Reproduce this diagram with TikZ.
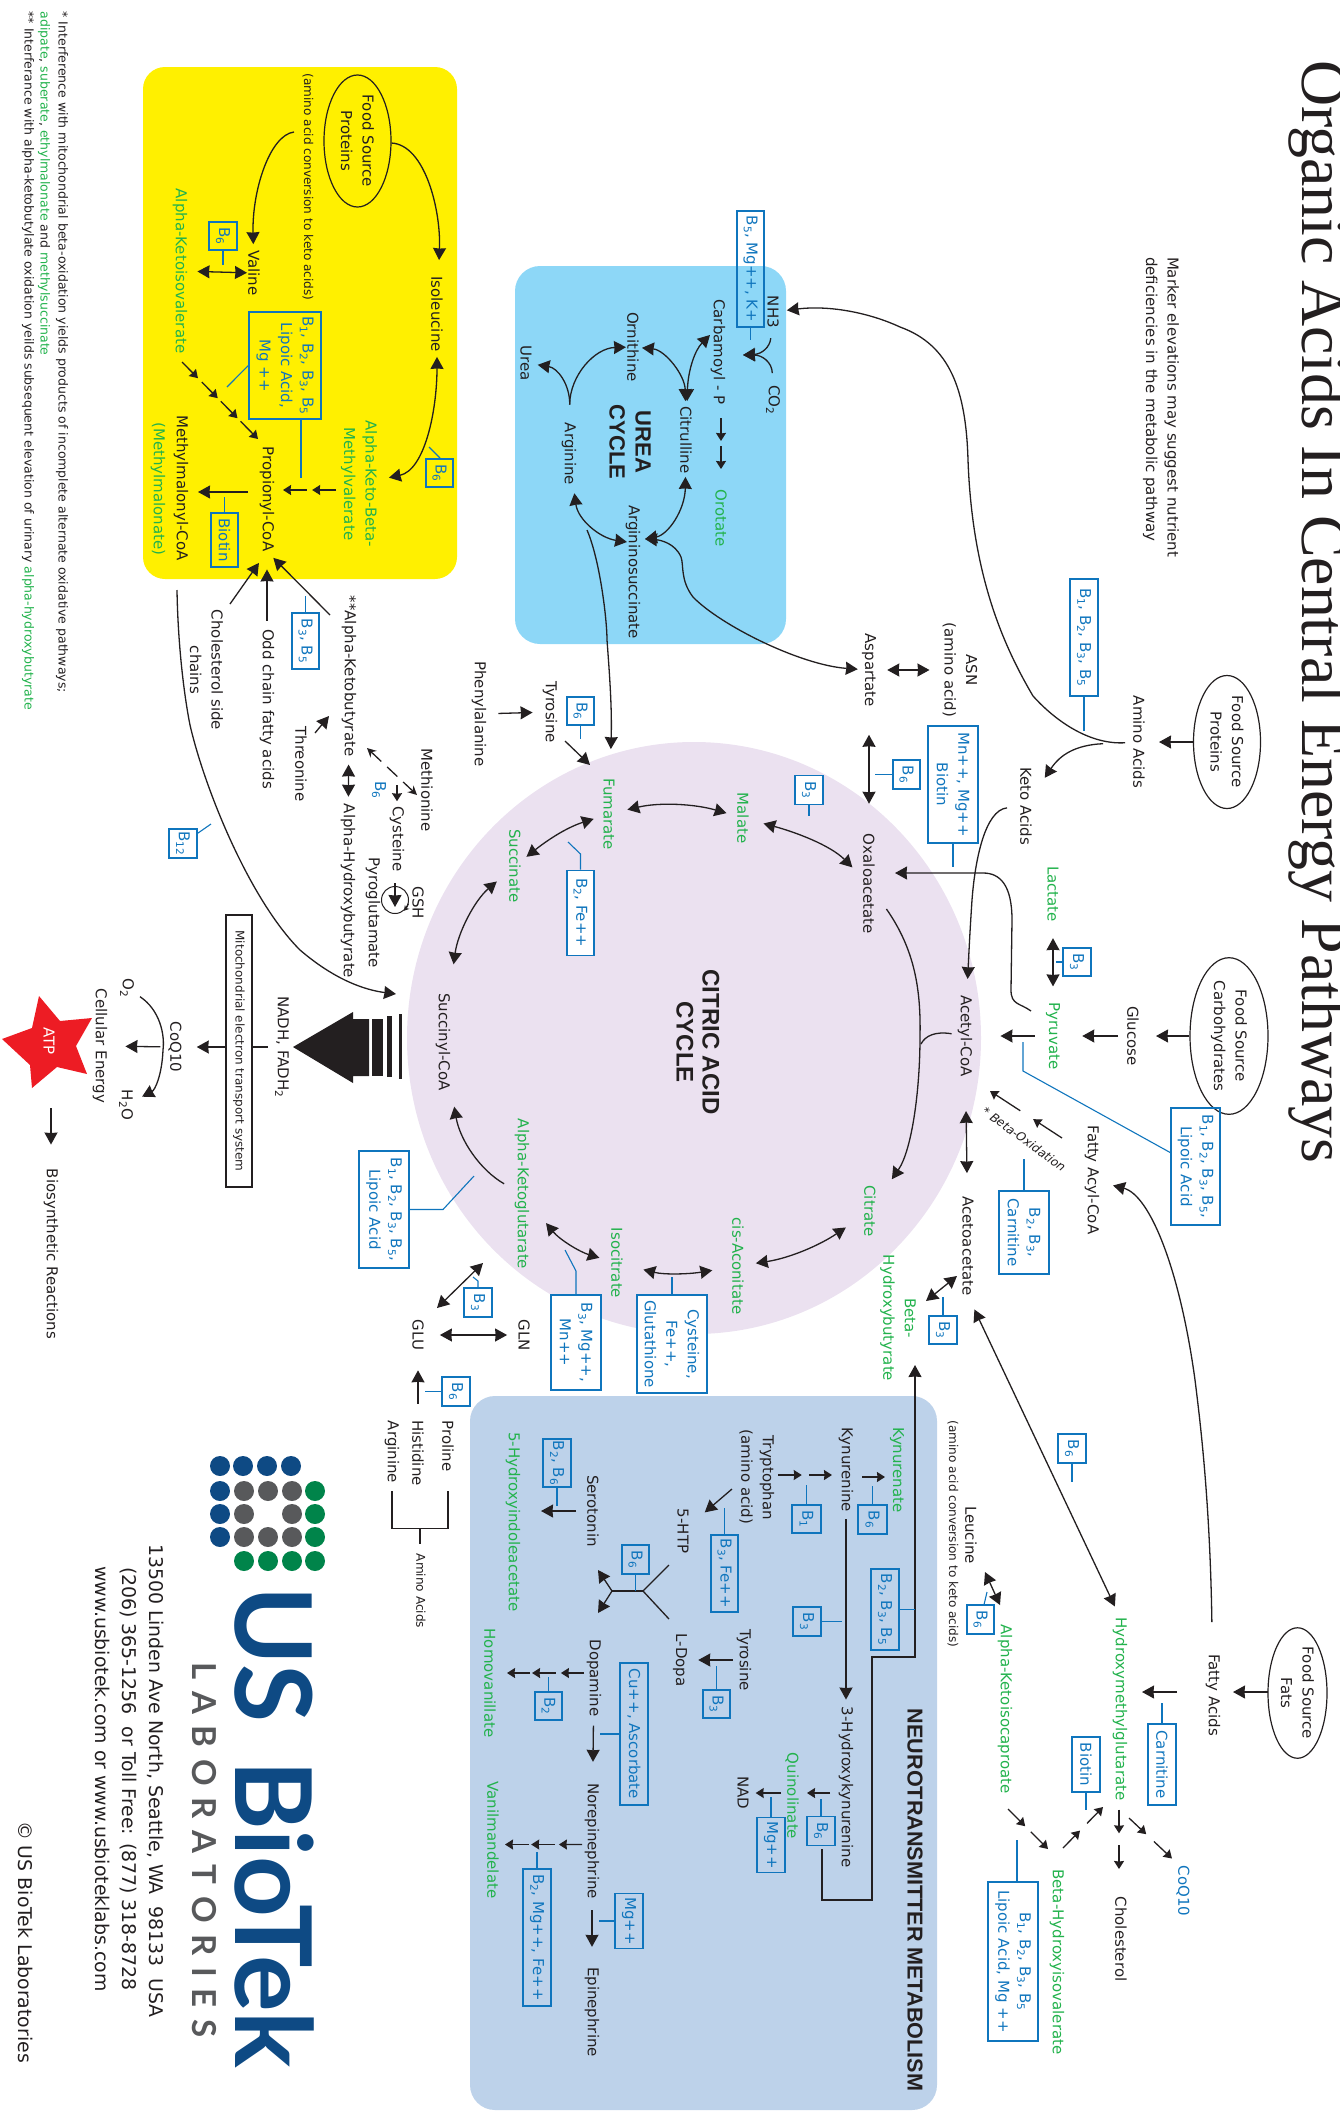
\documentclass[tikz,border=0pt]{standalone}
\usepackage{fontspec}
\setmainfont{DejaVu Sans}
\newfontfamily\titlefont{Liberation Serif}
\newfontfamily\headfont{Liberation Sans}
\newfontfamily\logofont{Lato}
\newfontfamily\labsfont[WordSpace=1.45]{Lato}
\usetikzlibrary{shapes,arrows.meta,calc}
\definecolor{ink}{HTML}{231F20}
\definecolor{mkgreen}{HTML}{22B24C}
\definecolor{cofblue}{HTML}{0F75BD}
\definecolor{lilac}{HTML}{EBE1F0}
\definecolor{ureablue}{HTML}{8DD7F7}
\definecolor{neuroblue}{HTML}{BDD2EA}
\definecolor{bcaayellow}{HTML}{FFF000}
\definecolor{logoblue}{HTML}{0E4A84}
\definecolor{logogrey}{HTML}{58595B}
\definecolor{logogreen}{HTML}{00844A}
\definecolor{atpred}{HTML}{ED1C24}
\newcommand{\Bv}[1]{B\textsubscript{#1}}
\tikzset{
    lab/.style={rotate=-90,inner sep=0pt,align=center,text=ink,font=\fontsize{15}{21.5}\selectfont},
    mk/.style={lab,text=mkgreen},
    tiny/.style={lab,font=\fontsize{12.1}{14}\selectfont},
    note/.style={lab,anchor=west,font=\fontsize{12.5}{14}\selectfont},
    head/.style={lab,font=\fontsize{#1}{26}\selectfont\headfont\bfseries},
    addr/.style={lab,font=\fontsize{18.9}{22}\selectfont},
    food/.style 2 args={lab,ellipse,draw=ink,line width=1.2pt,minimum width=#1,minimum height=#2},
    cof/.style 2 args={lab,rectangle,draw=cofblue,line width=1.2pt,text=cofblue,minimum width=#1,minimum height=#2},
    cofw/.style 2 args={cof={#1}{#2},fill=white},
    dotb/.style={circle,inner sep=0pt,minimum size=20pt,fill=#1},
    stem/.style={draw=cofblue,line width=1.1pt},
    cut/.style 2 args={shorten <=#1pt,shorten >=#2pt},
    line/.style={draw=ink,line width=1.3pt},
    rxn/.style={line,-{Stealth[inset=0.5pt,length=12pt,width=13pt]}},
    rxnB/.style={line,{Stealth[inset=0.5pt,length=12pt,width=13pt]}-{Stealth[inset=0.5pt,length=12pt,width=13pt]}},
    rxnS/.style={line,-{Stealth[inset=0.5pt,length=8pt,width=10pt]}}
}
\begin{document}
\begin{tikzpicture}[x=1pt,y=-1pt]
    \useasboundingbox (0,0) rectangle (1340,2112);

    % Coloured panels
    \fill[lilac] (694,1038) ellipse [x radius=287,y radius=296];
    \fill[bcaayellow,rounded corners=22pt] (143,67) rectangle (457,579);
    \fill[ureablue,rounded corners=25pt] (515,266) rectangle (786,644);
    \fill[neuroblue,rounded corners=25pt] (470,1396) rectangle (937,2110);

    % Title and side notes
    \node[lab,anchor=base west,font=\fontsize{63.9}{70}\selectfont\titlefont] (Title) at (1302,60) {Organic Acids In Central Energy Pathways};
    \node[lab,align=left] (Marker) at (1161,407) {Marker elevations may suggest nutrient\\deficiencies in the metabolic pathway};
    \node[note] (NoteA) at (62,11.5) {* Interference with mitochondrial beta-oxidation yields products of incomplete alternate oxidative pathways;};
    \node[note] (NoteB) at (44,11.5) {\textcolor{mkgreen}{adipate}, \textcolor{mkgreen}{suberate}, \textcolor{mkgreen}{ethylmalonate} and \textcolor{mkgreen}{methylsuccinate}};
    \node[note] (NoteC) at (28,11.5) {** Interferance with alpha-ketobutylate oxidation yeilds subsequent elevation of urinary \textcolor{mkgreen}{alpha-hydroxybutyrate}};

    % Food sources, top of the page
    \node[food={133pt}{67pt}] (FoodP) at (1227,742) {Food Source\\Proteins};
    \node[lab] (Amino) at (1139,742) {Amino Acids};
    \node[lab] (Keto) at (1026,806) {Keto Acids};
    \node[food={136pt}{78pt}] (FoodC) at (1229,1036) {Food Source\\Carbohydrates};
    \node[lab] (Glucose) at (1133,1036) {Glucose};
    \node[mk] (Pyruvate) at (1053,1036) {Pyruvate};
    \node[mk] (Lactate) at (1053,894) {Lactate};
    \node[lab] (Fatty) at (1092,1180) {Fatty Acyl-CoA};
    \node[lab,rotate=54,font=\fontsize{12}{14}\selectfont\itshape] (BetaOx) at (1024,1139) {* Beta-Oxidation};
    \node[lab] (Aspartate) at (869,670) {Aspartate};
    \node[lab] (Asn) at (960,670) {ASN\\(amino acid)};
    \node[lab] (Phe) at (479,714) {Phenylalanine};
    \node[lab] (TyrC) at (550,712) {Tyrosine};

    % Citric acid cycle
    \node[head=24] (Citric) at (698,1042) {CITRIC ACID\\CYCLE};
    \node[lab] (Oxalo) at (869,884) {Oxaloacetate};
    \node[lab] (Acetyl) at (965,1036) {Acetyl-CoA};
    \node[lab] (Acetoac) at (968,1246) {Acetoacetate};
    \node[mk] (Citrate) at (870,1211) {Citrate};
    \node[mk] (Aconit) at (738,1266) {cis-Aconitate};
    \node[mk] (Isocit) at (617,1263) {Isocitrate};
    \node[mk] (AlphaKG) at (522,1194) {Alpha-Ketoglutarate};
    \node[lab] (SuccCoA) at (443,1042) {Succinyl-CoA};
    \node[mk] (Succinate) at (515,866) {Succinate};
    \node[mk] (Fumarate) at (609,814) {Fumarate};
    \node[mk] (Malate) at (743,818) {Malate};
    \node[mk] (BetaHB) at (898,1318) {Beta-\\Hydroxybutyrate};

    % Urea cycle
    \node[head=22] (UreaT) at (630,442) {UREA\\CYCLE};
    \node[lab] (NHt) at (773,312) {NH3};
    \node[lab] (COt) at (773,400) {CO\textsubscript{2}};
    \node[lab] (Carbamoyl) at (718,352) {Carbamoyl - P};
    \node[mk] (Orotate) at (721,518) {Orotate};
    \node[lab] (Citrulline) at (686,440) {Citrulline};
    \node[lab] (Ornithine) at (633,347) {Ornithine};
    \node[lab] (Urea) at (526,363) {Urea};
    \node[lab] (ArgU) at (569,454) {Arginine};
    \node[lab] (Argsucc) at (633,572) {Argininosuccinate};

    % Branched chain panel
    \node[food={132pt}{67pt}] (FoodY) at (357.5,141) {Food Source\\Proteins};
    \node[tiny] (ConvY) at (308,187) {(amino acid conversion to keto acids)};
    \node[lab] (Isoleucine) at (437,314) {Isoleucine};
    \node[lab] (Valine) at (254,273) {Valine};
    \node[mk] (KIV) at (180,271) {Alpha-Ketoisovalerate};
    \node[mk] (KBM) at (359,484) {Alpha-Keto-Beta-\\Methylvalerate};
    \node[lab] (Propionyl) at (267,499) {Propionyl-CoA};
    \node[lab] (Mmcoa) at (181,488) {Methylmalonyl-CoA};
    \node[mk] (Mma) at (158,489) {(Methylmalonate)};
    \node[lab] (CholSide) at (206.5,670) {Cholesterol side\\chains};
    \node[lab] (OddChain) at (267,709) {Odd chain fatty acids};
    \node[lab] (AlphaKB) at (349,676) {**Alpha-Ketobutyrate};
    \node[lab] (AlphaHB) at (348,891) {Alpha-Hydroxybutyrate};
    \node[lab] (Threonine) at (301,764) {Threonine};
    \node[lab] (Methionine) at (427,790) {Methionine};
    \node[lab] (CysA) at (397,839) {Cysteine};
    \node[lab] (Pyroglu) at (373,913) {Pyroglutamate};
    \node[lab] (Gsh) at (418,903) {GSH};
    \node[lab,text=cofblue] (BsixCys) at (379,790) {\Bv{6}};
    \node[draw=ink,line width=1pt,circle,inner sep=0pt,minimum size=27pt] (GshRing) at (395,900) {};

    % Energy output
    \node[lab] (Nadh) at (282,1047) {NADH, FADH\textsubscript{2}};
    \node[lab,rectangle,draw=ink,line width=1.4pt,minimum width=272pt,minimum height=26pt,font=\fontsize{12}{14}\selectfont] (Etc) at (239,1051) {Mitochondrial electron transport system};
    \node[lab] (CoQ) at (175,1047) {CoQ10};
    \node[lab] (Otwo) at (127,988) {O\textsubscript{2}};
    \node[lab] (Water) at (126,1105) {H\textsubscript{2}O};
    \node[lab] (Cellular) at (100,1046) {Cellular Energy};
    \fill[atpred] (39,996) -- (60,1021) -- (92,1018) -- (76,1046) -- (87,1074) -- (57,1067) -- (32,1088) -- (30,1065) -- (2,1039) -- (32,1028) -- cycle;
    \node[lab,text=white] (Atp) at (49,1041) {ATP};
    \node[lab] (Biosyn) at (51,1254) {Biosynthetic Reactions};
    \fill[ink] (293,1047) -- (353,1012) -- (353,1019) -- (369,1019) -- (369,1076) -- (353,1076) -- (353,1083) -- cycle;
    \fill[ink] (372,1019) rectangle (383,1076);
    \fill[ink] (387,1016) rectangle (392,1077);
    \fill[ink] (399,1014) rectangle (402,1079);

    % Amino acids below the cycle
    \node[lab] (Glu) at (418,1335) {GLU};
    \node[lab] (Gln) at (524,1335) {GLN};
    \node[lab] (Proline) at (448,1446) {Proline};
    \node[lab] (Histidine) at (418,1453) {Histidine};
    \node[lab] (ArgA) at (392,1452) {Arginine};
    \node[tiny] (AminoS) at (421,1591) {Amino Acids};

    % Fat side
    \node[food={125pt}{59pt}] (FoodF) at (1297.5,1693) {Food Source\\Fats};
    \node[lab] (FattyA) at (1213,1695) {Fatty Acids};
    \node[mk] (Hmg) at (1120,1709) {Hydroxymethylglutarate};
    \node[lab] (Cholesterol) at (1121,1939) {Cholesterol};
    \node[lab,text=cofblue] (CoQb) at (1183,1891) {CoQ10};
    \node[mk] (Hiv) at (1057,1962) {Beta-Hydroxyisovalerate};
    \node[mk] (Kic) at (1005,1709) {Alpha-Ketoisocaproate};
    \node[lab] (Leucine) at (971,1535) {Leucine};
    \node[tiny] (ConvL) at (953,1534) {(amino acid conversion to keto acids)};

    % Neurotransmitter panel
    \node[head=21.6] (NeuroT) at (915,1900) {NEUROTRANSMITTER METABOLISM};
    \node[mk] (Kyna) at (897,1470) {Kynurenate};
    \node[lab] (Kynurenine) at (846,1470) {Kynurenine};
    \node[lab] (Hk) at (846,1787) {3-Hydroxykynurenine};
    \node[mk] (Quin) at (792,1796) {Quinolinate};
    \node[lab] (Nad) at (743,1793) {NAD};
    \node[lab] (Trp) at (767,1478) {Tryptophan};
    \node[lab] (TrpA) at (746,1477) {(amino acid)};
    \node[lab] (Htp) at (683,1531) {5-HTP};
    \node[lab] (Ldopa) at (680,1660) {L-Dopa};
    \node[lab] (TyrN) at (744,1660) {Tyrosine};
    \node[lab] (Serotonin) at (593,1511) {Serotonin};
    \node[mk] (Hiaa) at (513,1522) {5-Hydroxyindoleacetate};
    \node[lab] (Dopamine) at (594,1678) {Dopamine};
    \node[mk] (Homova) at (490,1683) {Homovanillate};
    \node[lab] (Norep) at (592,1841) {Norepinephrine};
    \node[mk] (Vanil) at (493,1840) {Vanilmandelate};
    \node[lab] (Epi) at (592,2012) {Epinephrine};

    % Cofactor boxes
    \node[cof={117pt}{28pt}] (cofAmino) at (1084,637.5) {\Bv{1}, \Bv{2}, \Bv{3}, \Bv{5}};
    \node[cof={117pt}{50pt}] (cofMn) at (953,784.5) {Mn++, Mg++\\Biotin};
    \node[cof={29pt}{27pt}] (cofAsp) at (906.5,774.5) {\Bv{6}};
    \node[cof={28pt}{28pt}] (cofLac) at (1077,962) {\Bv{3}};
    \node[cof={117pt}{49pt}] (cofPyr) at (1195.5,1166.5) {\Bv{1}, \Bv{2}, \Bv{3}, \Bv{5},\\Lipoic Acid};
    \node[cof={83pt}{50pt}] (cofCarn) at (1024,1232.5) {\Bv{2}, \Bv{3},\\Carnitine};
    \node[cof={28pt}{28pt}] (cofBhb) at (943,1330) {\Bv{3}};
    \node[cof={29pt}{28pt}] (cofHmg) at (1072,1448.5) {\Bv{6}};
    \node[cof={81pt}{28pt}] (cofFat) at (1162,1764.5) {Carnitine};
    \node[cof={55pt}{28pt}] (cofBio) at (1086,1764.5) {Biotin};
    \node[cof={29pt}{27pt}] (cofLeu) at (980.5,1619.5) {\Bv{6}};
    \node[cof={159pt}{50pt}] (cofHiv) at (1013,1961.5) {\Bv{1}, \Bv{2}, \Bv{3}, \Bv{5}\\Lipoic Acid, Mg ++};
    \node[cof={29pt}{29pt}] (cofKyn) at (872.5,1519.5) {\Bv{6}};
    \node[cof={28pt}{29pt}] (cofTrp) at (806.5,1519) {\Bv{1}};
    \node[cof={29pt}{28pt}] (cofKhk) at (807,1621.5) {\Bv{3}};
    \node[cof={81pt}{28pt}] (cofLoop) at (885,1609.5) {\Bv{2}, \Bv{3}, \Bv{5}};
    \node[cof={77pt}{27pt}] (cofHtp) at (724.5,1573.5) {\Bv{3}, Fe++};
    \node[cof={28pt}{27pt}] (cofDopa) at (716.5,1704) {\Bv{3}};
    \node[cof={29pt}{27pt}] (cofAad) at (635.5,1559.5) {\Bv{6}};
    \node[cof={48pt}{28pt}] (cofSer) at (557,1463) {\Bv{2}, \Bv{6}};
    \node[cof={28pt}{27pt}] (cofHom) at (548.5,1706) {\Bv{2}};
    \node[cof={142pt}{28pt}] (cofCu) at (634,1734) {Cu++, Ascorbate};
    \node[cof={137pt}{28pt}] (cofVma) at (537,1937.5) {\Bv{2}, Mg++, Fe++};
    \node[cof={55pt}{28pt}] (cofEpi) at (629,1921) {Mg++};
    \node[cof={29pt}{28pt}] (cofQui) at (821,1831) {\Bv{6}};
    \node[cof={55pt}{28pt}] (cofNad) at (771,1845) {Mg++};
    \node[cofw={29pt}{28pt}] (cofMal) at (809,790) {\Bv{3}};
    \node[cofw={85pt}{27pt}] (cofFum) at (580.5,912.7) {\Bv{2}, Fe++};
    \node[cofw={95pt}{50pt}] (cofIso) at (576,1342.5) {\Bv{3}, Mg++,\\Mn++};
    \node[cofw={98pt}{70pt}] (cofAco) at (672,1344) {Cysteine,\\Fe++,\\Glutathione};
    \node[cof={117pt}{50pt}] (cofKga) at (384,1209.5) {\Bv{1}, \Bv{2}, \Bv{3}, \Bv{5},\\Lipoic Acid};
    \node[cof={29pt}{28pt}] (cofGlu) at (478,1302.5) {\Bv{3}};
    \node[cof={29pt}{28pt}] (cofGlt) at (456,1391.5) {\Bv{6}};
    \node[cof={28pt}{27pt}] (cofTyr) at (580.5,711) {\Bv{6}};
    \node[cof={116pt}{27pt}] (cofCps) at (750.5,269) {\Bv{5}, Mg++, K+};
    \node[cof={28pt}{27pt}] (cofIle) at (439.5,473) {\Bv{6}};
    \node[cof={28pt}{28pt}] (cofVal) at (223,236) {\Bv{6}};
    \node[cof={107pt}{72pt}] (cofPro) at (285,365.5) {\Bv{1}, \Bv{2}, \Bv{3}, \Bv{5}\\Lipoic Acid,\\Mg ++};
    \node[cof={54pt}{27pt}] (cofMma) at (224.5,540) {Biotin};
    \node[cof={56pt}{27pt}] (cofAkb) at (305.5,641) {\Bv{3}, \Bv{5}};
    \node[cof={29pt}{28pt}] (cofBtw) at (183,843.5) {\Bv{12}};

    % Free ends of the connectors
    \coordinate (nhIn) at (743,355);
    \coordinate (carbTip) at (710,335);
    \coordinate (asIn) at (645,539);
    \coordinate (asOut) at (627,542);
    \coordinate (fumS) at (587,530);
    \coordinate (pyrOut) at (1031,1011);
    \coordinate (oxaIn) at (895,873);
    \coordinate (acJoin) at (921,1044);
    \coordinate (aaTip) at (957,1276);
    \coordinate (bhbTip) at (926,1301);
    \coordinate (bhbIn) at (915,1365);
    \coordinate (qnOut) at (822,1849);
    \coordinate (hmgIn) at (1142,1692);
    \coordinate (fatIn) at (1233,1692);
    \coordinate (valS) at (294,132);
    \coordinate (cholS) at (230,604);
    \coordinate (akbS) at (330,615);
    \coordinate (pmTip) at (198,492);
    \coordinate (mmS) at (177,590);
    \coordinate (mmT) at (396,994);
    \coordinate (thrS) at (315,733);
    \coordinate (thrT) at (329,716);
    \coordinate (metA) at (367,748);
    \coordinate (metB) at (417,795);
    \coordinate (cysS) at (397,785);
    \coordinate (gshS) at (395,883);
    \coordinate (gshT) at (395,907);
    \coordinate (tyrS) at (565,741);
    \coordinate (tyrT) at (590,765);
    \coordinate (gluA) at (437,1308);
    \coordinate (gluB) at (483,1263);
    \coordinate (leuA) at (985,1572);
    \coordinate (leuB) at (1000,1605);
    \coordinate (trpOut) at (732,1489);
    \coordinate (hiaaIn) at (541,1511);
    \coordinate (atpOut) at (51,1108);
    \coordinate (kkT) at (885,1477);
    \coordinate (hqT) at (807,1793);
    \coordinate (brTopL) at (392,1491);
    \coordinate (brLowL) at (392,1528.5);
    \coordinate (brLowR) at (448,1528.5);
    \coordinate (brTopR) at (448,1491);
    \coordinate (brMid) at (420,1528.5);
    \coordinate (brEnd) at (420,1544);
    \coordinate (fkA) at (669,1565);
    \coordinate (fkB) at (669,1619);
    \coordinate (fkM) at (643,1591);
    \coordinate (fkN) at (612,1591);
    \coordinate (fkS) at (598,1570);
    \coordinate (fkT) at (598,1613);

    % Broken arrows, cut out of one line
    \coordinate (hivS) at (1008,1809); \coordinate (hivT) at (1048,1849);
    \coordinate (hgS) at (1063,1848); \coordinate (hgT) at (1103,1807);
    \coordinate (cqS) at (1129,1818); \coordinate (cqT) at (1172,1858.5);
    \coordinate (boS) at (1062,1138); \coordinate (boT) at (990,1091);
    \coordinate (oroS) at (721,418); \coordinate (oroT) at (721,469);
    \coordinate (chS) at (1119,1809.5); \coordinate (chT) at (1119,1869);
    \coordinate (kbS) at (336,490); \coordinate (kbT) at (283,490);
    \coordinate (tkS) at (778,1475); \coordinate (tkT) at (832,1475);
    \coordinate (kivS) at (182,362); \coordinate (kivT) at (258,439);
    \coordinate (dopS) at (584,1673); \coordinate (dopT) at (507,1673);
    \coordinate (nepS) at (582,1844.5); \coordinate (nepT) at (505,1844.5);
    \foreach \fr/\to/\sa/\sb in {hivS/hivT/0/.43,hivS/hivT/.57/1,hgS/hgT/0/.425,hgS/hgT/.6/1,cqS/cqT/0/.4,cqS/cqT/.58/1,
        boS/boT/0/.40,boS/boT/.58/1,oroS/oroT/0/.45,oroS/oroT/.55/1,chS/chT/0/.4,chS/chT/.6/1,kbS/kbT/0/.45,kbS/kbT/.55/1,
        tkS/tkT/0/.44,tkS/tkT/.57/1,kivS/kivT/0/.21,kivS/kivT/.26/.47,kivS/kivT/.51/.73,kivS/kivT/.77/1,
        dopS/dopT/0/.3,dopS/dopT/.365/.675,dopS/dopT/.70/1,nepS/nepT/0/.30,nepS/nepT/.35/.66,nepS/nepT/.69/1}
        \draw[rxnS] ($(\fr)!\sa!(\to)$) -- ($(\fr)!\sb!(\to)$);

    % Top of the page
    \draw[rxn,cut={0}{14}] (FoodP) -- (Amino);
    \draw[rxn,cut={8}{8}] (Amino) .. controls (1085,745) and (1050,715) .. (1033,696) .. controls (1000,640) and (972,570) .. (968,460) .. controls (966,390) and (950,345) .. (900,327) .. controls (870,313) and (830,305) .. (NHt);
    \draw[rxn,cut={30}{23}] (Amino) .. controls (1075,745) and (1060,755) .. (Keto);
    \draw[rxn,cut={0}{17}] (FoodC) -- (Glucose);
    \draw[rxn,cut={9}{22}] (Glucose) -- (Pyruvate);
    \draw[rxn,cut={11}{28}] (Pyruvate) -- (Acetyl);
    \draw[rxnB,cut={16}{16}] (Lactate) -- (Pyruvate);
    \draw[rxn,cut={13}{16}] (Keto) .. controls (985,810) and (975,860) .. (972,900) .. controls (970,930) and (969,950) .. (Acetyl);
    \draw[rxn] (pyrOut) .. controls (1020,1003) and (1011,1005) .. (1011,990) -- (1012,920) .. controls (1012,885) and (1000,873) .. (983,873) -- (oxaIn);
    \draw[rxnB,cut={11}{13}] (Aspartate) -- (Asn);
    \draw[rxnB,cut={28}{30}] (Aspartate) -- (Oxalo);
    \draw[rxnB,cut={4}{0}] (Aspartate) .. controls (800,665) and (720,625) .. (693,597) .. controls (680,580) and (684,565) .. (681,557) .. controls (675,543) and (660,540) .. (asIn);
    \draw[rxn,cut={12}{10}] (Phe) -- (TyrC);
    \draw[rxn] (tyrS) -- (tyrT);

    % Cycle arrows
    \draw[rxnB,cut={13}{11}] (Fumarate) .. controls (660,802) and (695,804) .. (Malate);
    \draw[rxnB,cut={10}{7}] (Fumarate) .. controls (565,828) and (545,842) .. (Succinate);
    \draw[rxnB,cut={16}{29}] (Succinate) .. controls (475,900) and (458,932) .. (SuccCoA);
    \draw[rxn,cut={12}{22}] (AlphaKG) .. controls (480,1170) and (460,1140) .. (SuccCoA);
    \draw[rxnB,cut={26}{12}] (AlphaKG) .. controls (560,1240) and (580,1252) .. (Isocit);
    \draw[rxnB,cut={21}{20}] (Isocit) .. controls (665,1275) and (690,1274) .. (Aconit);
    \draw[rxnB,cut={12}{22}] (Aconit) .. controls (790,1258) and (820,1245) .. (Citrate);
    \draw[rxnB,cut={15}{15}] (Malate) .. controls (795,832) and (830,845) .. (Oxalo);
    \draw[rxn,cut={20}{28}] (Oxalo) .. controls (915,950) and (921,990) .. (920,1037) .. controls (920,1090) and (912,1150) .. (Citrate);
    \draw[line,cut={6}{0}] (Acetyl) .. controls (935,1031) and (925,1036) .. (acJoin);
    \draw[rxnB,cut={34}{23}] (Acetyl) -- (Acetoac);
    \draw[rxnB] (aaTip) -- (bhbTip);
    \draw[rxnB,cut={15}{12}] (Acetoac.east) -- (Hmg.west);
    \draw[rxn,cut={32}{14}] (FattyA) .. controls (1210,1500) and (1200,1420) .. (1195,1380) .. controls (1180,1270) and (1150,1195) .. (Fatty);

    % Urea cycle arrows
    \draw[rxn,cut={10}{0}] (NHt) .. controls (770,347) and (762,354) .. (nhIn);
    \draw[rxn,cut={12}{0}] (COt) .. controls (772,362) and (762,355) .. (nhIn);
    \draw[rxnB,cut={0}{5}] (carbTip) .. controls (695,350) and (688,370) .. (Citrulline);
    \draw[rxnB,cut={3}{5}] (Ornithine) .. controls (665,350) and (685,375) .. (Citrulline);
    \draw[rxn,cut={18}{1}] (ArgU) .. controls (570,375) and (595,348) .. (Ornithine);
    \draw[rxn,cut={18}{6}] (ArgU) .. controls (570,385) and (558,368) .. (Urea);
    \draw[rxnB,cut={3}{0}] (Citrulline) .. controls (685,510) and (668,535) .. (asIn);
    \draw[rxnB,cut={8}{0}] (ArgU) .. controls (578,520) and (600,538) .. (asOut);
    \draw[rxn,cut={0}{29}] (fumS) .. controls (600,560) and (607,620) .. (607,640) .. controls (610,680) and (612,710) .. (Fumarate);

    % Branched chain arrows
    \draw[rxn,cut={0}{16}] (FoodY) .. controls (425,145) and (441,210) .. (Isoleucine);
    \draw[rxn,cut={0}{6}] (valS) .. controls (270,135) and (252,190) .. (Valine);
    \draw[rxnB,cut={1}{10}] (Valine) -- (KIV);
    \draw[rxnB,cut={5}{12}] (Isoleucine) .. controls (437,410) and (425,470) .. (KBM);
    \draw[rxn,cut={19}{0}] (Propionyl |- pmTip) -- (pmTip);
    \draw[rxn,cut={0}{14}] (cholS) -- (Propionyl.east);
    \draw[rxn,cut={8}{18}] (OddChain) -- (Propionyl);
    \draw[rxn,cut={0}{9}] (akbS) -- (Propionyl.east);
    \draw[rxnB,cut={8}{7}] (AlphaKB) -- (AlphaHB);
    \draw[rxn] (thrS) -- (thrT);
    \draw[line,dash pattern=on 14pt off 8pt,{Stealth[length=9pt,width=9pt]}-{Stealth[length=9pt,width=9pt]}] (metA) -- (metB);
    \draw[rxnS,cut={0}{5}] (cysS) -- (CysA);
    \draw[rxn] (gshS) -- (gshT);
    \draw[line,line width=1pt,-{Stealth[length=5pt,width=6pt]}] (GshRing.-15) .. controls (GshRing.-30) .. (GshRing.-50);
    \draw[rxn] (mmS) .. controls (178,650) and (185,700) .. (190,725) .. controls (205,790) and (250,900) .. (300,950) .. controls (335,980) and (365,990) .. (mmT);
    \draw[line,cut={7}{13}] (Nadh) -- (Etc |- Nadh);
    \draw[rxn,cut={13}{15}] (Etc |- CoQ) -- (CoQ);
    \draw[rxn,cut={8}{18}] (CoQ) -- (Cellular);
    \draw[rxn,cut={7}{10}] (Otwo) .. controls (160,1010) and (165,1035) .. (163,1050) .. controls (162,1075) and (155,1090) .. (Water);
    \draw[rxn,cut={0}{24}] (atpOut) -- (Biosyn);

    % Below the cycle
    \draw[rxnB,cut={16}{11}] (Glu) -- (Gln);
    \draw[rxnB] (gluA) -- (gluB);
    \draw[rxn,cut={16}{20}] (Histidine) -- (Glu);
    \draw[line,line width=1.1pt] (brTopL) -- (brLowL) -- (brLowR) -- (brTopR);
    \draw[line,line width=1.1pt] (brMid) -- (brEnd);

    % Fat side
    \draw[rxn,cut={29.5}{0}] (FoodF |- fatIn) -- (fatIn);
    \draw[rxn,cut={36}{0}] (FattyA |- hmgIn) -- (hmgIn);
    \draw[rxnB] (leuA) -- (leuB);

    % Neurotransmitter arrows
    \draw[rxnS,cut={16}{0}] (Kynurenine |- kkT) -- (kkT);
    \draw[rxn,cut={7}{7}] (Kynurenine) -- (Hk);
    \draw[rxn,cut={0}{21}] (trpOut) -- (Htp);
    \draw[rxn,cut={4}{11}] (TyrN) -- (Ldopa);
    \draw[rxn,cut={11}{0}] (Serotonin) -- (hiaaIn);
    \draw[rxn,cut={9}{21}] (Dopamine) -- (Norep);
    \draw[rxn,cut={11}{20}] (Norep) -- (Epi);
    \draw[rxnS,cut={16}{0}] (Hk |- hqT) -- (hqT);
    \draw[rxnS,cut={11}{7}] (Quin |- Nad) -- (Nad);
    \draw[line] (fkA) -- (fkM) -- (fkB);
    \draw[line] (fkM) -- (fkN);
    \draw[rxn] (fkN) -- (fkS);
    \draw[rxn] (fkN) -- (fkT);
    \draw[rxn] (qnOut) -- (822,1900) -- (872,1900) -- (872,1657) -- (915,1657) -- (bhbIn);

    % Cofactor stems
    \coordinate (sAmino) at (1084,731); \draw[stem] (cofAmino) -- (sAmino);
    \coordinate (sMn) at (953,867); \draw[stem] (cofMn) -- (sMn);
    \coordinate (sAsp) at (875,774.5); \draw[stem] (cofAsp) -- (sAsp);
    \coordinate (sLac) at (1056,962); \draw[stem] (cofLac) -- (sLac);
    \coordinate (sPyrA) at (1023,1071); \coordinate (sPyrB) at (1023,1042); \draw[stem] (cofPyr) -- (sPyrA) -- (sPyrB);
    \coordinate (sCarn) at (1024,1159); \draw[stem] (cofCarn) -- (sCarn);
    \coordinate (sBhb) at (943,1297); \draw[stem] (cofBhb) -- (sBhb);
    \coordinate (sHmg) at (1072,1482); \draw[stem] (cofHmg) -- (sHmg);
    \coordinate (sFat) at (1162,1703); \draw[stem] (cofFat) -- (sFat);
    \coordinate (sBio) at (1086,1809.5); \draw[stem] (cofBio) -- (sBio);
    \coordinate (sLeu) at (987,1592); \draw[stem] (cofLeu) -- (sLeu);
    \coordinate (sHivA) at (1017,1882); \coordinate (sHivB) at (1017,1840); \draw[stem] (sHivA) -- (sHivB);
    \coordinate (sKyn) at (872.5,1486); \draw[stem] (cofKyn) -- (sKyn);
    \coordinate (sTrp) at (806.5,1485); \draw[stem] (cofTrp) -- (sTrp);
    \coordinate (sKhk) at (842,1621.5); \draw[stem] (cofKhk) -- (sKhk);
    \coordinate (sLoop) at (915,1609.5); \draw[stem] (cofLoop) -- (sLoop);
    \coordinate (sHtp) at (724.5,1508); \draw[stem] (cofHtp) -- (sHtp);
    \coordinate (sDopa) at (716.5,1666); \draw[stem] (cofDopa) -- (sDopa);
    \coordinate (sAad) at (635.5,1591); \draw[stem] (cofAad) -- (sAad);
    \coordinate (sSer) at (557,1506); \draw[stem] (cofSer) -- (sSer);
    \coordinate (sHom) at (548.5,1677); \draw[stem] (cofHom) -- (sHom);
    \coordinate (sCu) at (600,1734); \draw[stem] (cofCu) -- (sCu);
    \coordinate (sVma) at (537,1851.5); \draw[stem] (cofVma) -- (sVma);
    \coordinate (sEpi) at (599,1921); \draw[stem] (cofEpi) -- (sEpi);
    \coordinate (sQui) at (821,1799); \draw[stem] (cofQui) -- (sQui);
    \coordinate (sNad) at (771,1797); \draw[stem] (cofNad) -- (sNad);
    \coordinate (sMal) at (809,816); \draw[stem] (cofMal) -- (sMal);
    \coordinate (sFumA) at (580.5,854); \coordinate (sFumB) at (568,842); \draw[stem] (cofFum) -- (sFumA) -- (sFumB);
    \coordinate (sIsoA) at (576,1271); \coordinate (sIsoB) at (565,1250); \draw[stem] (cofIso) -- (sIsoA) -- (sIsoB);
    \coordinate (sAco) at (672,1277); \draw[stem] (cofAco) -- (sAco);
    \coordinate (sKgaA) at (443,1209.5); \coordinate (sKgaB) at (474,1176); \draw[stem] (cofKga) -- (sKgaA) -- (sKgaB);
    \coordinate (sGluA) at (478,1281); \coordinate (sGluB) at (473,1277); \draw[stem] (cofGlu) -- (sGluA) -- (sGluB);
    \coordinate (sGlt) at (425,1391.5); \draw[stem] (cofGlt) -- (sGlt);
    \coordinate (sTyr) at (580.5,739); \draw[stem] (cofTyr) -- (sTyr);
    \coordinate (sCps) at (750.5,340); \draw[stem] (cofCps) -- (sCps);
    \coordinate (sIleA) at (440,458); \coordinate (sIleB) at (429,447); \draw[stem] (sIleA) -- (sIleB);
    \coordinate (sVal) at (223,265); \draw[stem] (cofVal) -- (sVal);
    \coordinate (sProA) at (227,387); \draw[stem] (cofPro.south) -- (sProA);
    \coordinate (sProB) at (301,419); \coordinate (sProC) at (301,477.5); \draw[stem] (sProB) -- (sProC);
    \coordinate (sMma) at (224.5,497); \draw[stem] (cofMma) -- (sMma);
    \coordinate (sAkb) at (305.5,596); \draw[stem] (cofAkb) -- (sAkb);
    \coordinate (sBtw) at (211,824); \draw[stem] (cofBtw) -- (sBtw);

    % Logo and address
    \foreach \px/\py/\pc in {220/1466/logoblue,243/1466/logoblue,267/1466/logoblue,291/1466/logoblue,
        220/1491/logoblue,244/1491/logogrey,268/1491/logogrey,292/1491/logogrey,315/1491/logogreen,
        220/1514/logoblue,244/1514/logogrey,292/1514/logogrey,315/1514/logogreen,
        220/1537/logoblue,244/1537/logogrey,268/1537/logogrey,292/1537/logogrey,315/1537/logogreen,
        244/1561/logogreen,268/1561/logogreen,292/1561/logogreen,315/1561/logogreen}
        \node[dotb=\pc] (dot\px\py) at (\px,\py) {};
    \node[lab,anchor=base west,text=logoblue,font=\fontsize{106}{106}\selectfont\logofont\bfseries] (LogoUS) at (235,1586) {US BioTek};
    \node[lab,text=logogrey,font=\fontsize{33}{33}\selectfont\labsfont\bfseries] (LogoLab) at (204,1850) {L A B O R A T O R I E S};
    \node[addr] (AddrA) at (156,1781) {13500 Linden Ave North, Seattle, WA~~98133~~USA};
    \node[addr] (AddrB) at (128,1779) {(206) 365-1256~~or Toll Free: (877) 318-8728};
    \node[addr] (AddrC) at (103,1779) {www.usbiotek.com or www.usbioteklabs.com};
    \node[addr] (Copy) at (26,1942) {\textcopyright\ US BioTek Laboratories};
\end{tikzpicture}
\end{document}
